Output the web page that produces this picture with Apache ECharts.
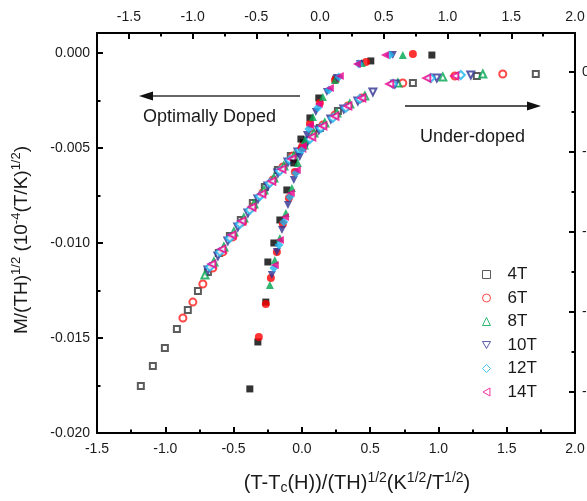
<!DOCTYPE html>
<html><head><meta charset="utf-8">
<script src="https://cdn.jsdelivr.net/npm/echarts@6/dist/echarts.min.js"></script>
<style>html,body{margin:0;padding:0;background:#fff}#c{width:587px;height:501px}</style>
</head><body><div id="c"></div>
<script>
// ---- data ----
const fields = ['4T', '6T', '8T', '10T', '12T', '14T'];
const bottomTicks = [-1.5, -1.0, -0.5, 0.0, 0.5, 1.0, 1.5, 2.0];
const topTicks = [-1.5, -1.0, -0.5, 0.0, 0.5, 1.0, 1.5, 2.0];
const leftTicks = [-0.020, -0.015, -0.010, -0.005, 0.000];
const rightTicks = [-0.020, -0.015, -0.010, -0.005, 0.000];

// Under-doped (open symbols): [x, M/(TH)^1/2]
const ud4T = [[-1.179,-0.01753],[-1.091,-0.01647],[-1.003,-0.01553],[-0.915,-0.01453],[-0.835,-0.01353],[-0.761,-0.01253],[-0.688,-0.01153],[-0.608,-0.01053],[-0.527,-0.00963],[-0.447,-0.00879],[-0.359,-0.00789],[-0.271,-0.00705],[-0.176,-0.00616],[-0.081,-0.00542],[0.015,-0.00474],[0.132,-0.00395],[0.264,-0.00305],[0.813,-0.00158],[1.281,-0.00121],[1.713,-0.00111]];
const ud6T = [[-0.871,-0.01395],[-0.798,-0.01311],[-0.725,-0.01216],[-0.652,-0.01132],[-0.578,-0.01047],[-0.505,-0.00968],[-0.432,-0.00889],[-0.359,-0.00811],[-0.286,-0.00737],[-0.212,-0.00668],[-0.139,-0.00600],[-0.066,-0.00542],[0.007,-0.00489],[0.081,-0.00426],[0.154,-0.00379],[0.242,-0.00326],[0.337,-0.00279],[0.439,-0.00237],[0.739,-0.00158],[1.120,-0.00121],[1.471,-0.00111]];
const ud8T = [[-0.710,-0.01168],[-0.644,-0.01100],[-0.571,-0.01021],[-0.498,-0.00942],[-0.425,-0.00868],[-0.351,-0.00795],[-0.278,-0.00721],[-0.205,-0.00658],[-0.132,-0.00595],[-0.059,-0.00542],[0.015,-0.00484],[0.088,-0.00421],[0.168,-0.00368],[0.256,-0.00316],[0.351,-0.00268],[0.461,-0.00226],[0.703,-0.00158],[1.032,-0.00126],[1.325,-0.00111]];
const ud10T = [[-0.688,-0.01142],[-0.615,-0.01068],[-0.542,-0.00989],[-0.469,-0.00916],[-0.395,-0.00842],[-0.322,-0.00768],[-0.249,-0.00700],[-0.176,-0.00632],[-0.102,-0.00574],[-0.029,-0.00521],[0.044,-0.00463],[0.124,-0.00405],[0.212,-0.00347],[0.307,-0.00295],[0.410,-0.00253],[0.520,-0.00205],[0.681,-0.00163],[0.988,-0.00132],[1.237,-0.00116]];
const ud12T = [[-0.673,-0.01126],[-0.600,-0.01047],[-0.527,-0.00974],[-0.454,-0.00900],[-0.381,-0.00826],[-0.307,-0.00753],[-0.234,-0.00684],[-0.161,-0.00621],[-0.088,-0.00563],[-0.015,-0.00511],[0.059,-0.00453],[0.139,-0.00395],[0.227,-0.00342],[0.322,-0.00289],[0.425,-0.00242],[0.666,-0.00163],[0.944,-0.00132],[1.164,-0.00116]];
const ud14T = [[-0.659,-0.01111],[-0.586,-0.01032],[-0.512,-0.00958],[-0.439,-0.00884],[-0.366,-0.00811],[-0.293,-0.00742],[-0.220,-0.00674],[-0.146,-0.00611],[-0.073,-0.00558],[0.000,-0.00500],[0.073,-0.00442],[0.154,-0.00384],[0.242,-0.00332],[0.337,-0.00279],[0.439,-0.00237],[0.644,-0.00163],[0.915,-0.00132],[1.120,-0.00121]];

// Optimally doped (filled symbols)
const op4T = [[-0.381,-0.01768],[-0.322,-0.01521],[-0.264,-0.01311],[-0.249,-0.01100],[-0.205,-0.01000],[-0.161,-0.00879],[-0.110,-0.00721],[-0.059,-0.00579],[-0.007,-0.00453],[0.059,-0.00342],[0.124,-0.00237],[0.249,-0.00137],[0.505,-0.00042],[0.952,-0.00011]];
const op6T = [[-0.315,-0.01495],[-0.264,-0.01321],[-0.227,-0.01184],[-0.183,-0.01047],[-0.139,-0.00900],[-0.095,-0.00763],[-0.051,-0.00626],[0.000,-0.00500],[0.059,-0.00374],[0.132,-0.00263],[0.242,-0.00142],[0.469,-0.00047],[0.813,-0.00005]];
const op8T = [[-0.234,-0.01221],[-0.198,-0.01089],[-0.161,-0.00974],[-0.117,-0.00842],[-0.073,-0.00711],[-0.029,-0.00579],[0.022,-0.00458],[0.081,-0.00337],[0.154,-0.00232],[0.242,-0.00142],[0.439,-0.00053],[0.739,-0.00011]];
const op10T = [[-0.220,-0.01168],[-0.183,-0.01047],[-0.146,-0.00932],[-0.102,-0.00800],[-0.059,-0.00668],[-0.015,-0.00547],[0.037,-0.00432],[0.102,-0.00311],[0.183,-0.00205],[0.256,-0.00132],[0.425,-0.00058],[0.666,-0.00011]];
const op12T = [[-0.205,-0.01132],[-0.168,-0.01011],[-0.132,-0.00889],[-0.088,-0.00758],[-0.044,-0.00632],[0.000,-0.00511],[0.051,-0.00400],[0.117,-0.00289],[0.198,-0.00195],[0.271,-0.00126],[0.417,-0.00058],[0.644,-0.00011]];
const op14T = [[-0.198,-0.01116],[-0.161,-0.00984],[-0.124,-0.00863],[-0.081,-0.00737],[-0.037,-0.00616],[0.007,-0.00489],[0.059,-0.00379],[0.124,-0.00268],[0.205,-0.00184],[0.278,-0.00121],[0.403,-0.00058],[0.608,-0.00011]];

const underDoped = [ud4T, ud6T, ud8T, ud10T, ud12T, ud14T];
const optimal = [op4T, op6T, op8T, op10T, op12T, op14T];

// ---- styles ----
const colors = ['#333333', '#ff1a1a', '#00a651', '#2e3192', '#1cb5ef', '#ec008c'];
const fillColors = ['#000000', '#ff0000', '#00a651', '#2e3192', '#1cb5ef', '#ec008c'];
const openSymbols = ['emptyRect', 'emptyCircle', 'emptyTriangle', 'emptyTriangle', 'emptyDiamond', 'emptyTriangle'];
const fillSymbols = ['rect', 'circle', 'triangle', 'triangle', 'diamond', 'triangle'];
const legendIcons = ['rect', 'circle', 'triangle', 'path://M0,0L10,0L5,8.66Z', 'diamond', 'path://M0,5L8.66,0L8.66,10Z'];
const rotations = [0, 0, 0, 180, 0, 90];
const sizes = [6, 7, 7, 7, 8, 7];
const FONT = 'Liberation Sans, Arial, sans-serif';

const series = [];
fields.forEach((f, i) => {
  series.push({
    name: f, type: 'scatter', xAxisIndex: 0, yAxisIndex: 0,
    data: underDoped[i], symbol: openSymbols[i], symbolRotate: rotations[i], symbolSize: sizes[i],
    itemStyle: { color: colors[i], borderColor: colors[i], borderWidth: 1 },
    z: 3
  });
});
fields.forEach((f, i) => {
  series.push({
    name: f + ' optimal', type: 'scatter', xAxisIndex: 0, yAxisIndex: 0,
    data: optimal[i], symbol: fillSymbols[i], symbolRotate: rotations[i], symbolSize: sizes[i] + 1,
    itemStyle: { color: fillColors[i] },
    z: 4
  });
});

const lineStyle = { color: '#000', width: 2 };
const tickLine = { color: '#000', width: 2 };
const labelStyle = { color: '#1a1a1a', fontSize: 14, fontFamily: FONT };
const noLine = { show: false, onZero: false };

const chart = echarts.init(document.getElementById('c'), null, { renderer: 'canvas' });
chart.setOption({
  animation: false,
  backgroundColor: '#fff',
  grid: { left: 97, right: 12, top: 33, bottom: 68, containLabel: false, outerBoundsMode: 'none' },
  xAxis: [
    { type: 'value', position: 'bottom', min: -1.5, max: 2.0, interval: 0.5,
      axisLine: { show: true, onZero: false, lineStyle },
      axisTick: { show: true, inside: true, length: 6, lineStyle: tickLine },
      minorTick: { show: true, splitNumber: 2, length: 3.5, lineStyle: tickLine },
      axisLabel: { ...labelStyle, margin: 9, formatter: v => v.toFixed(1) },
      splitLine: { show: false } },
    { type: 'value', position: 'top', min: -1.75, max: 2.0,
      axisLine: { show: true, onZero: false, lineStyle },
      axisTick: { show: true, inside: true, length: 6, customValues: topTicks, lineStyle: tickLine },
      axisLabel: { ...labelStyle, margin: 9, customValues: topTicks, formatter: v => v.toFixed(1) },
      splitLine: { show: false } },
    { type: 'value', position: 'top', min: -1.75, max: 2.0,
      axisLine: noLine,
      axisTick: { show: true, inside: true, length: 3.5, customValues: [-1.25, -0.75, -0.25, 0.25, 0.75, 1.25, 1.75], lineStyle: tickLine },
      axisLabel: { show: false }, splitLine: { show: false } }
  ],
  yAxis: [
    { type: 'value', position: 'left', min: -0.020, max: 0.00105,
      axisLine: { show: true, onZero: false, lineStyle },
      axisTick: { show: true, inside: true, length: 6, customValues: leftTicks, lineStyle: tickLine },
      axisLabel: { ...labelStyle, margin: 7, customValues: leftTicks, formatter: v => v.toFixed(3) },
      splitLine: { show: false } },
    { type: 'value', position: 'left', min: -0.020, max: 0.00105,
      axisLine: noLine,
      axisTick: { show: true, inside: true, length: 3.5, customValues: [-0.0175, -0.0125, -0.0075, -0.0025], lineStyle: tickLine },
      axisLabel: { show: false }, splitLine: { show: false } },
    { type: 'value', position: 'right', min: -0.0225625, max: 0.0024375,
      axisLine: { show: true, onZero: false, lineStyle },
      axisTick: { show: true, inside: true, length: 6, customValues: rightTicks, lineStyle: tickLine },
      axisLabel: { ...labelStyle, margin: 7, customValues: rightTicks, formatter: v => v.toFixed(3) },
      splitLine: { show: false } },
    { type: 'value', position: 'right', min: -0.0225625, max: 0.0024375,
      axisLine: noLine,
      axisTick: { show: true, inside: true, length: 3.5, customValues: [-0.0175, -0.0125, -0.0075, -0.0025], lineStyle: tickLine },
      axisLabel: { show: false }, splitLine: { show: false } }
  ],
  legend: {
    data: fields.map((f, i) => ({ name: f, icon: legendIcons[i], itemStyle: { color: '#fff', borderColor: colors[i], borderWidth: 1 } })),
    orient: 'vertical', left: 477, top: 261,
    itemWidth: 8, itemHeight: 8, itemGap: 6.5,
    textStyle: { fontSize: 17, fontFamily: FONT, color: '#1a1a1a', padding: [0, 0, 0, 12] }
  },
  graphic: [
    { type: 'text', x: 22, y: 240, rotation: Math.PI / 2,
      style: { text: '{n|M/(TH)}{s|1/2}{n| (10}{s|-4}{n|(T/K)}{s|1/2}{n|)}', align: 'center', verticalAlign: 'middle',
        rich: { n: { fontSize: 19, fontFamily: FONT, fill: '#1a1a1a', lineHeight: 24 },
                s: { fontSize: 13, fontFamily: FONT, fill: '#1a1a1a', verticalAlign: 'top' } } } },
    { type: 'text', x: 357, y: 483,
      style: { text: '{n|(T-T}{b|c}{n|(H))/(TH)}{s|1/2}{n|(K}{s|1/2}{n|/T}{s|1/2}{n|)}', align: 'center', verticalAlign: 'middle',
        rich: { n: { fontSize: 20, fontFamily: FONT, fill: '#1a1a1a', lineHeight: 24 },
                s: { fontSize: 14, fontFamily: FONT, fill: '#1a1a1a', verticalAlign: 'top' },
                b: { fontSize: 14, fontFamily: FONT, fill: '#1a1a1a', verticalAlign: 'bottom' } } } },
    { type: 'text', x: 143, y: 117, style: { text: 'Optimally Doped', fontSize: 18, fontFamily: FONT, fill: '#1a1a1a', verticalAlign: 'middle' } },
    { type: 'text', x: 420, y: 137, style: { text: 'Under-doped', fontSize: 18, fontFamily: FONT, fill: '#1a1a1a', verticalAlign: 'middle' } },
    { type: 'line', shape: { x1: 300, y1: 96, x2: 150, y2: 96 }, style: { stroke: '#333', lineWidth: 1.5 } },
    { type: 'polygon', shape: { points: [[139, 96], [153, 91.5], [153, 100.5]] }, style: { fill: '#111' } },
    { type: 'line', shape: { x1: 405, y1: 106, x2: 530, y2: 106 }, style: { stroke: '#555', lineWidth: 1.8 } },
    { type: 'polygon', shape: { points: [[541, 106], [527, 101.5], [527, 110.5]] }, style: { fill: '#111' } }
  ],
  series
});
</script>
</body></html>
